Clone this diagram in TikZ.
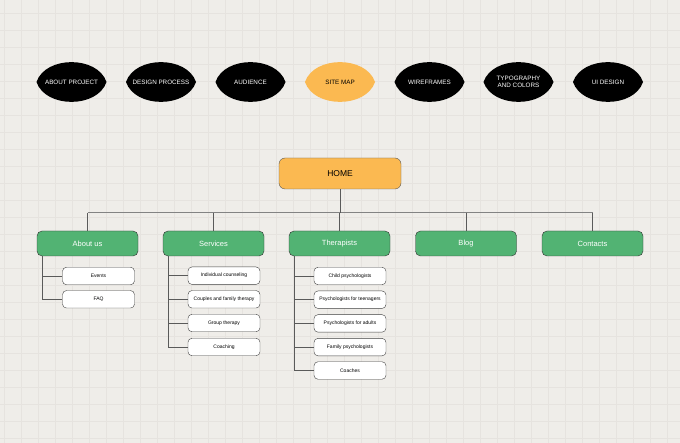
\documentclass[tikz,border=0pt]{standalone}
\usepackage{fontspec}
\setmainfont{Liberation Sans}
\definecolor{bgc}{HTML}{EFEDE9}
\definecolor{gridc}{HTML}{E6E3DF}
\definecolor{orangec}{HTML}{FBB951}
\definecolor{greenc}{HTML}{52B373}
\definecolor{linec}{HTML}{5A5A5A}
\begin{document}
\begin{tikzpicture}[x=1pt,y=-1pt,
  toplabel/.style={text=white,font=\fontsize{6.3}{7}\selectfont,align=center,inner sep=0pt},
  homebox/.style={draw=linec,fill=orangec,rounded corners=6pt,minimum width=122pt,minimum height=31pt,font=\fontsize{8.5}{10}\selectfont,inner sep=0pt},
  greenbox/.style={draw=black!80,fill=greenc,rounded corners=5pt,minimum width=101pt,minimum height=25pt,text=white,font=\fontsize{7.5}{9}\selectfont,inner sep=0pt},
  subbox/.style={draw=black!75,fill=white,rounded corners=4pt,minimum width=72pt,minimum height=17.5pt,font=\fontsize{5}{6}\selectfont,inner sep=0pt},
  conn/.style={draw=linec,line width=0.8pt}
]
\fill[bgc] (0,0) rectangle (680,443);
\begin{scope}
\clip (0,0) rectangle (680,443);
\foreach \i in {0,...,40} \draw[gridc,line width=0.5pt] (4.3+17*\i,0) -- (4.3+17*\i,443);
\foreach \j in {0,...,26} \draw[gridc,line width=0.5pt] (0,13+17*\j) -- (680,13+17*\j);
\end{scope}
\useasboundingbox (0,0) rectangle (680,443);

% top leaf tabs
\foreach \cx/\txt/\col/\tc [count=\k] in {71.5/ABOUT PROJECT/black/white, 161/DESIGN PROCESS/black/white, 250.5/AUDIENCE/black/white, 340/SITE MAP/orangec/black, 429.5/WIREFRAMES/black/white, 518.5/{TYPOGRAPHY\\AND COLORS}/black/white, 608/UI DESIGN/black/white}{
  \fill[\col] (\cx-35,82) .. controls (\cx-26,55.5) and (\cx+26,55.5) .. (\cx+35,82)
              .. controls (\cx+26,108.5) and (\cx-26,108.5) .. cycle;
  \node[toplabel,text=\tc] (tab\k) at (\cx,82) {\txt};
}

\node[homebox] (home) at (340,173.5) {HOME};

\node[greenbox] (about) at (87.5,243.5) {About us};
\node[greenbox] (serv) at (213.5,243.5) {Services};
\node[greenbox] (ther) at (339.5,243.5) {Therapists};
\node[greenbox] (blog) at (466,243.5) {Blog};
\node[greenbox] (cont) at (592.5,243.5) {Contacts};

\coordinate (hl) at (88,212.7);
\coordinate (hr) at (592.5,212.7);
\draw[conn,draw=linec!75] (hl) -- (hr);
\draw[conn] (home.south) -- (home.south |- hl);
\foreach \n in {about,serv,ther,blog,cont}
  \draw[conn] (\n.north |- hl) -- (\n.north);

% About us children
\node[subbox] (ev) at (98.5,276) {Events};
\node[subbox] (faq) at (98.5,299.3) {FAQ};
\coordinate (atrunk) at (42.3,256);
\draw[conn] (atrunk) |- (faq.west);
\draw[conn] (atrunk |- ev.west) -- (ev.west);

% Services children
\node[subbox] (s1) at (224,275.7) {Individual counseling};
\node[subbox] (s2) at (224,299.3) {Couples and family therapy};
\node[subbox] (s3) at (224,323) {Group therapy};
\node[subbox] (s4) at (224,347) {Coaching};
\coordinate (strunk) at (168.3,256);
\draw[conn] (strunk) |- (s4.west);
\foreach \n in {s1,s2,s3} \draw[conn] (strunk |- \n.west) -- (\n.west);

% Therapists children
\node[subbox] (t1) at (350,276) {Child psychologists};
\node[subbox] (t2) at (350,299.7) {Psychologists for teenagers};
\node[subbox] (t3) at (350,323.4) {Psychologists for adults};
\node[subbox] (t4) at (350,347.1) {Family psychologists};
\node[subbox] (t5) at (350,370.5) {Coaches};
\coordinate (ttrunk) at (294.3,256);
\draw[conn] (ttrunk) |- (t5.west);
\foreach \n in {t1,t2,t3,t4} \draw[conn] (ttrunk |- \n.west) -- (\n.west);
\end{tikzpicture}
\end{document}
